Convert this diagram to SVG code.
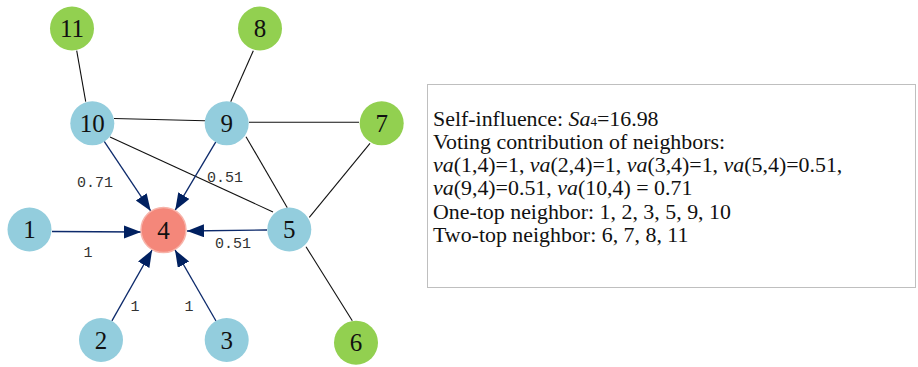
<svg xmlns="http://www.w3.org/2000/svg" width="918" height="367" viewBox="0 0 918 367">
<defs>
<style>
.nb{fill:#93CDDD}
.ng{fill:#92D050}
.nr{fill:#F4877A;stroke:#F7B3A9;stroke-width:1.5}
.nl{font-family:"Liberation Serif","Times New Roman",serif;font-size:25px;fill:#111;text-anchor:middle}
.e{stroke:#111;stroke-width:1.1;fill:none}
.a{stroke:#0D2A6B;stroke-width:1.3;fill:none;marker-end:url(#arr)}
.el{font-family:"Liberation Mono","Courier New",monospace;font-size:15px;fill:#333}
.tx{font-family:"Liberation Serif","Times New Roman",serif;font-size:21.9px;fill:#111}
</style>
<marker id="arr" markerUnits="userSpaceOnUse" markerWidth="18" markerHeight="14" refX="17" refY="6.5" orient="auto">
<path d="M0,0 L17,6.5 L0,13 z" fill="#002060"/>
</marker>
</defs>
<rect width="918" height="367" fill="#fff"/>
<g id="connectors">
<line class="e" x1="76.7" y1="50.7" x2="85.7" y2="101.7"/>
<line class="e" x1="253.3" y1="50.7" x2="230.7" y2="101.7"/>
<line class="e" x1="114" y1="118.5" x2="205" y2="120.7"/>
<line class="e" x1="249" y1="122.3" x2="359" y2="122.3"/>
<line class="e" x1="110" y1="137" x2="273" y2="212"/>
<line class="e" x1="246" y1="136.7" x2="287.3" y2="207.7"/>
<line class="e" x1="370" y1="143.3" x2="309.3" y2="217.3"/>
<line class="e" x1="306" y1="246.7" x2="352.3" y2="320.7"/>
<line class="a" x1="104.2" y1="141.3" x2="150.7" y2="210.9"/>
<line class="a" x1="215.8" y1="141.9" x2="175.2" y2="210.2"/>
<line class="a" x1="267" y1="230" x2="187" y2="231"/>
<line class="a" x1="52" y1="231.5" x2="141" y2="232"/>
<line class="a" x1="111.9" y1="320.9" x2="152.1" y2="250"/>
<line class="a" x1="216" y1="321" x2="175" y2="249.9"/>
<text class="el" x="77" y="187">0.71</text>
<text class="el" x="207" y="181.5">0.51</text>
<text class="el" x="215" y="248">0.51</text>
<text class="el" x="88" y="256.5" text-anchor="middle">1</text>
<text class="el" x="135" y="311" text-anchor="middle">1</text>
<text class="el" x="189" y="311" text-anchor="middle">1</text>
</g>
<g id="n11"><circle class="ng" cx="72" cy="28.5" r="22"/><text class="nl" x="72" y="37">11</text></g>
<g id="n8"><circle class="ng" cx="260" cy="28.5" r="22"/><text class="nl" x="260" y="37">8</text></g>
<g id="n10"><circle class="nb" cx="92.3" cy="123.3" r="22"/><text class="nl" x="92.3" y="132">10</text></g>
<g id="n9"><circle class="nb" cx="226.7" cy="123.3" r="22"/><text class="nl" x="226.7" y="132">9</text></g>
<g id="n7"><circle class="ng" cx="381.7" cy="123.3" r="22"/><text class="nl" x="381.7" y="132">7</text></g>
<g id="n1"><circle class="nb" cx="29.5" cy="229.5" r="22"/><text class="nl" x="29.5" y="238">1</text></g>
<g id="n4"><circle class="nr" cx="163.5" cy="230" r="22.5"/><text class="nl" x="163.5" y="238.5">4</text></g>
<g id="n5"><circle class="nb" cx="289.3" cy="229.5" r="22"/><text class="nl" x="289.3" y="238">5</text></g>
<g id="n2"><circle class="nb" cx="101" cy="340" r="22"/><text class="nl" x="101" y="348.5">2</text></g>
<g id="n3"><circle class="nb" cx="226.7" cy="340" r="22"/><text class="nl" x="226.7" y="348.5">3</text></g>
<g id="n6"><circle class="ng" cx="356" cy="342.7" r="22"/><text class="nl" x="356" y="351.2">6</text></g>
<g id="legend">
<rect x="427.5" y="84.5" width="488" height="203" fill="#fff" stroke="#BFBFBF" stroke-width="1"/>
<text class="tx" x="433" y="126">Self-influence: <tspan font-style="italic">Sa</tspan><tspan font-size="13px">4</tspan>=16.98</text>
<text class="tx" x="433" y="149">Voting contribution of neighbors:</text>
<text class="tx" x="433" y="172"><tspan font-style="italic">va</tspan>(1,4)=1, <tspan font-style="italic">va</tspan>(2,4)=1, <tspan font-style="italic">va</tspan>(3,4)=1, <tspan font-style="italic">va</tspan>(5,4)=0.51,</text>
<text class="tx" x="433" y="195"><tspan font-style="italic">va</tspan>(9,4)=0.51, <tspan font-style="italic">va</tspan>(10,4) = 0.71</text>
<text class="tx" x="433" y="218.5">One-top neighbor: 1, 2, 3, 5, 9, 10</text>
<text class="tx" x="433" y="241.5">Two-top neighbor: 6, 7, 8, 11</text>
</g>
</svg>
